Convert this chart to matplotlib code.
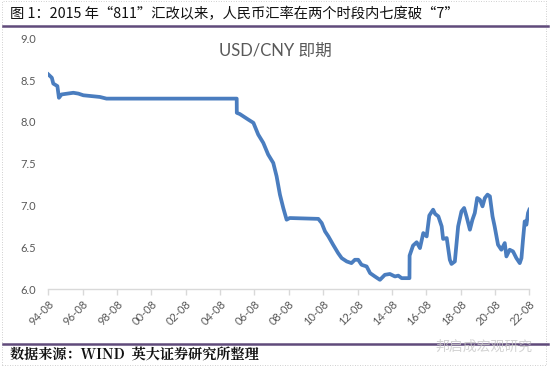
import matplotlib
matplotlib.use("Agg")
import matplotlib.pyplot as plt
from matplotlib.lines import Line2D
from matplotlib.patches import Rectangle
import pandas as pd

plt.rcParams['font.family'] = ['Lato', 'Noto Sans CJK SC', 'DejaVu Sans']

# USD/CNY spot, values
dates = [
    "1994-08-01", "1994-10-15", "1994-11-15", "1995-02-10", "1995-03-15",
    "1995-05-10", "1996-01-15", "1996-05-01", "1996-08-15", "1997-08-01",
    "1997-12-20", "2005-07-20", "2005-07-22", "2005-09-25", "2006-03-20",
    "2006-07-10", "2006-10-20", "2007-02-05", "2007-05-20", "2007-09-05",
    "2007-11-15", "2008-01-25", "2008-04-05", "2008-06-15", "2008-08-20",
    "2010-04-20", "2010-07-01", "2010-09-10", "2010-11-20", "2011-03-01",
    "2011-06-15", "2011-08-30", "2011-12-15", "2012-03-25", "2012-06-05",
    "2012-08-15", "2012-10-25", "2013-02-10", "2013-04-25", "2013-08-05",
    "2013-11-20", "2014-03-05", "2014-06-20", "2014-10-05", "2014-12-15",
    "2015-02-25", "2015-08-10", "2015-08-13", "2015-10-25", "2016-01-10",
    "2016-03-20", "2016-05-30", "2016-08-10", "2016-10-05", "2016-12-25",
    "2017-02-05", "2017-04-15", "2017-06-25", "2017-07-25", "2017-10-10",
    "2017-12-15", "2018-01-20", "2018-04-01", "2018-06-10", "2018-08-20",
    "2018-10-15", "2018-12-05", "2019-02-15", "2019-04-10", "2019-05-30",
    "2019-07-20", "2019-09-15", "2019-11-10", "2019-12-30", "2020-02-25",
    "2020-04-15", "2020-06-10", "2020-07-25", "2020-10-05", "2020-12-15",
    "2021-02-25", "2021-04-01", "2021-06-10", "2021-08-20", "2021-10-30",
    "2022-01-10", "2022-02-15", "2022-03-20", "2022-04-25", "2022-06-01",
    "2022-07-05", "2022-08-01",
]
usdcny = [
    8.57, 8.53, 8.46, 8.43, 8.29,
    8.33, 8.35, 8.34, 8.32, 8.30,
    8.28, 8.28, 8.11, 8.095, 8.03,
    7.99, 7.85, 7.75, 7.61, 7.51,
    7.35, 7.13, 6.97, 6.83, 6.85,
    6.84, 6.79, 6.69, 6.63, 6.53,
    6.43, 6.37, 6.33, 6.31, 6.35,
    6.35, 6.29, 6.27, 6.19, 6.15,
    6.11, 6.17, 6.18, 6.15, 6.16,
    6.13, 6.13, 6.40, 6.52, 6.56,
    6.49, 6.67, 6.63, 6.88, 6.95,
    6.90, 6.87, 6.75, 6.60, 6.61,
    6.35, 6.30, 6.33, 6.75, 6.93,
    6.97, 6.87, 6.71, 6.83, 6.91,
    7.09, 7.07, 6.99, 7.09, 7.13,
    7.11, 6.87, 6.75, 6.53, 6.47,
    6.55, 6.39, 6.47, 6.45, 6.37,
    6.31, 6.37, 6.59, 6.81, 6.77,
    6.91, 6.95,
]
tick_years = list(range(1994, 2023, 2))
tick_labels = [f"{y % 100:02d}-08" for y in tick_years]

header = "图 1：2015 年“811”汇改以来，人民币汇率在两个时段内七度破“7”"
chart_title = "USD/CNY 即期"
source = "数据来源：WIND  英大证券研究所整理"

W, H = 550, 366
fig = plt.figure(figsize=(W / 100, H / 100), dpi=100)
ax = fig.add_axes([48.3 / W, 1 - 289 / H, (529.3 - 48.3) / W, (289 - 38.5) / H])

x = pd.to_datetime(dates)
ax.plot(x, usdcny, color="#4a7dbf", lw=2.7, solid_joinstyle="round")

ax.set_ylim(6.0, 9.0)
ax.set_yticks([6.0, 6.5, 7.0, 7.5, 8.0, 8.5, 9.0])
ax.yaxis.set_major_formatter(matplotlib.ticker.FormatStrFormatter("%.1f"))
ticks = pd.to_datetime([f"{y}-08-01" for y in tick_years])
ax.set_xlim(ticks[0], ticks[-1])
ax.set_xticks(ticks)
ax.set_xticklabels(tick_labels, rotation=45, ha="right", rotation_mode="anchor")

for s in ["top", "right", "left"]:
    ax.spines[s].set_visible(False)
ax.spines["bottom"].set_color("#d9d9d9")
ax.spines["bottom"].set_linewidth(1.0)
ax.tick_params(axis="y", length=0, pad=9, labelsize=8, labelcolor="#595959")
ax.tick_params(axis="x", length=4, width=1, color="#d9d9d9", pad=3,
               labelsize=8, labelcolor="#595959", direction="out")

fig.text(275 / W, 1 - 51 / H, chart_title, ha="center", va="center",
         fontsize=12, color="#595959")

# header / footer of the report figure
fig.text(10 / W, 1 - 14 / H, header, ha="left", va="center", fontsize=10.3,
         family=["Noto Sans CJK SC", "DejaVu Sans"], weight="medium",
         color="#111111")
fig.add_artist(Line2D([3 / W, 548 / W], [1 - 25.5 / H, 1 - 25.5 / H],
                      color="#604a7b", lw=1.8))
fig.add_artist(Line2D([3 / W, 548 / W], [1 - 343.5 / H, 1 - 343.5 / H],
                      color="#604a7b", lw=1.8))
fig.text(10 / W, 1 - 356 / H, source, ha="left", va="center", fontsize=10.2,
         family=["Noto Serif CJK SC", "Noto Sans CJK SC", "DejaVu Serif"],
         weight="bold", color="#111111")
fig.text(532 / W, 1 - 347 / H, "邦启成宏观研究", ha="right", va="center",
         fontsize=10, family=["Noto Sans CJK SC"], color="#c8c8c8", alpha=0.8)

fig.add_artist(Rectangle((2 / W, 1 / H), 544 / W, 1 - 2 / H, fill=False,
                         ls=(0, (1, 2)), lw=0.6, ec="#c0c0c0",
                         transform=fig.transFigure))

fig.savefig("out.png", dpi=100)
